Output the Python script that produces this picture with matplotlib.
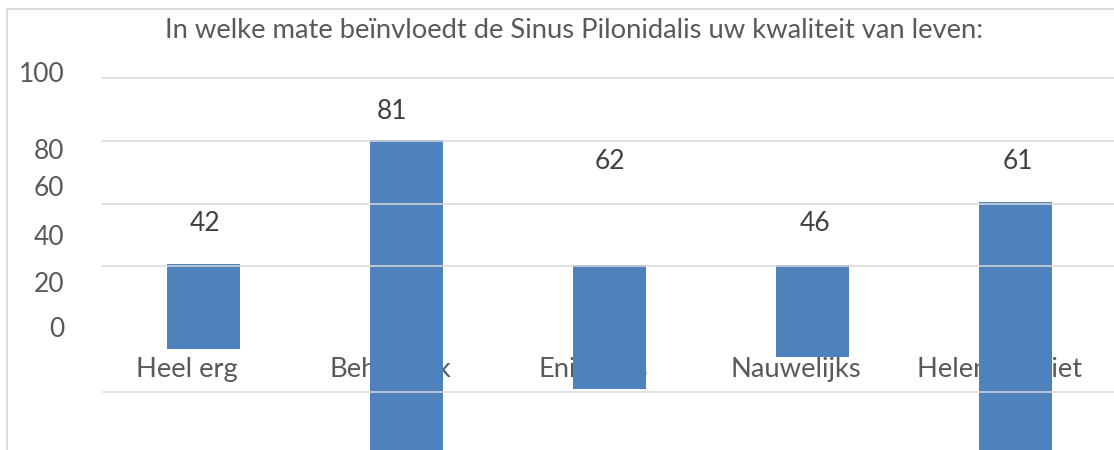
import matplotlib
matplotlib.use("Agg")
import matplotlib.pyplot as plt
from matplotlib.lines import Line2D

plt.rcParams["font.family"] = ["Lato", "DejaVu Sans"]

TITLE = "In welke mate beïnvloedt de Sinus Pilonidalis uw kwaliteit van leven:"
categories = ["Heel erg", "Behoorlijk", "Enigszins", "Nauwelijks", "Helemaal niet"]
values = [42, 81, 62, 46, 61]

# the bars as the (broken) source rendering shows them, in axis units
bar_top = [40.8, 80.3, 40.4, 40.4, 60.5]
bar_bottom = [13.7, -25.0, 1.0, 11.1, -25.0]

# where the value labels sit (baseline, axis units) and their x slot
label_x = [0.01, 0.93, 2.0, 3.01, 4.01]
label_y = [51.3, 86.9, 71.0, 51.3, 71.0]

grid_values = [100, 80, 60, 40, 0]
tick_labels = ["100", "80", "60", "40", "20", "0"]
tick_pos = [101.9, 77.4, 65.6, 50.0, 35.0, 20.7]

_TEXT = "#595959"
_VALUE = "#404040"
_GRID = "#D9D9D9"
_BAR = "#4F81BD"

W, H = 1114, 450
fig = plt.figure(figsize=(W / 100, H / 100), dpi=100)
ax = fig.add_axes([102 / W, 0, (W - 102) / W, (H - 9) / H])
ax.set_xlim(-0.5, 4.485)
ax.set_ylim(-18.47, 121.97)

x = list(range(len(categories)))
heights = [t - b for t, b in zip(bar_top, bar_bottom)]
ax.bar(x, heights, bottom=bar_bottom, width=0.36, color=_BAR, zorder=2)

# gridlines are drawn over the bars in the source
for g in grid_values:
    ax.axhline(g, color=_GRID, lw=1.1, zorder=3)

# category labels sit under the bars
for i, cat in enumerate(categories):
    ax.text(i - 0.08, 4.8, cat, ha="center", va="baseline", fontsize=19.7,
            color=_TEXT, zorder=1)

for lx, ly, v in zip(label_x, label_y, values):
    ax.text(lx, ly, str(v), ha="center", va="baseline", fontsize=19,
            color=_VALUE, zorder=4)

ax.set_xticks([])
ax.set_yticks(tick_pos, tick_labels)
ax.tick_params(axis="y", length=0, pad=27, labelsize=19, labelcolor=_TEXT)
for spine in ax.spines.values():
    spine.set_visible(False)

fig.text(574 / W, 1 - 38 / H, TITLE, ha="center", va="baseline",
         fontsize=19.7, color=_TEXT)

# chart-area frame (left and top edges only are visible)
fig.add_artist(Line2D([7 / W, 7 / W], [0, 1 - 9 / H], color=_GRID, lw=1.3))
fig.add_artist(Line2D([7 / W, 1], [1 - 9 / H, 1 - 9 / H], color=_GRID, lw=1.3))

fig.savefig("out.png", dpi=100)
